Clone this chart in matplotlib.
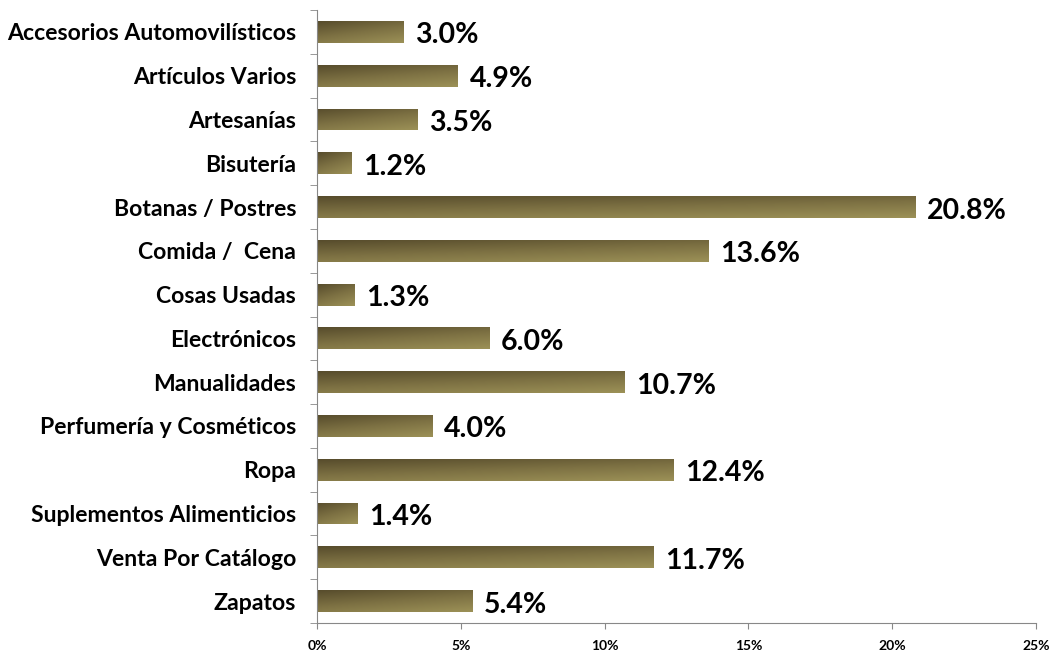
import matplotlib
matplotlib.use("Agg")
import matplotlib.pyplot as plt
import numpy as np
from matplotlib.colors import LinearSegmentedColormap

categories = ["Accesorios Automovilísticos", "Artículos Varios", "Artesanías", "Bisutería",
              "Botanas / Postres", "Comida /  Cena", "Cosas Usadas", "Electrónicos",
              "Manualidades", "Perfumería y Cosméticos", "Ropa", "Suplementos Alimenticios",
              "Venta Por Catálogo", "Zapatos"]
values = [3.0, 4.9, 3.5, 1.2, 20.8, 13.6, 1.3, 6.0, 10.7, 4.0, 12.4, 1.4, 11.7, 5.4]
xticks = [0, 5, 10, 15, 20, 25]

plt.rcParams["font.family"] = ["Lato", "DejaVu Sans"]
plt.rcParams["font.weight"] = "bold"

fig = plt.figure(figsize=(10.5, 6.54), dpi=100)
ax = fig.add_axes([317 / 1050, 1 - 623 / 654, 719 / 1050, 613 / 654])

n = len(categories)
ypos = np.arange(n)
bars = ax.barh(ypos, values, height=0.5, color="none")

# gradient fill, dark top-left -> lighter bottom-right
cmap = LinearSegmentedColormap.from_list("olive", ["#574c2c", "#7d7143", "#9c9157"])
gx, gy = np.meshgrid(np.linspace(0, 1, 200), np.linspace(0, 1, 40))
grad = 0.35 * gx + 0.65 * gy
for b in bars:
    x0, y0 = b.get_x(), b.get_y()
    w, h = b.get_width(), b.get_height()
    im = ax.imshow(grad, cmap=cmap, extent=[x0, x0 + w, y0 + h, y0],
                   aspect="auto", origin="upper", zorder=2)
    im.set_clip_path(b)

for y, v in zip(ypos, values):
    ax.text(v + 0.4, y + 0.08, f"{v:.1f}%", va="center", ha="left",
            fontsize=20.5, fontweight="bold", color="black")

ax.set_xlim(0, 25)
ax.set_ylim(n - 0.5, -0.5)
ax.set_xticks(xticks)
ax.set_xticklabels([f"{t}%" for t in xticks], fontsize=10, fontweight="bold")
ax.set_yticks(ypos)
ax.set_yticklabels(categories, fontsize=16.6, fontweight="bold")
ax.set_yticks(np.arange(n + 1) - 0.5, minor=True)
ax.tick_params(axis="y", which="major", length=0, pad=15)
ax.tick_params(axis="y", which="minor", length=5, color="#888888")
ax.tick_params(axis="x", length=4, color="#888888", pad=8)

for s in ["top", "right"]:
    ax.spines[s].set_visible(False)
for s in ["left", "bottom"]:
    ax.spines[s].set_color("#888888")

fig.savefig("out.png", dpi=100)
